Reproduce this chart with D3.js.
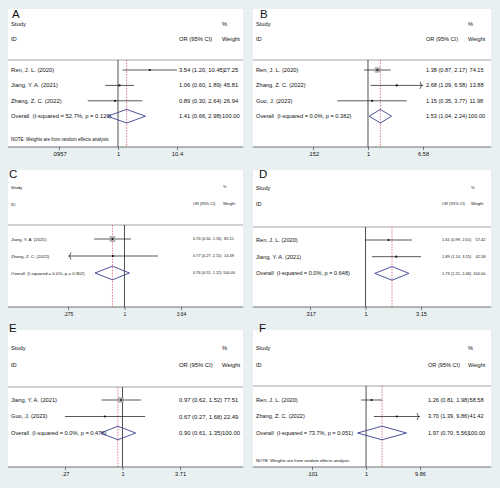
<!DOCTYPE html>
<html><head><meta charset="utf-8">
<script src="https://cdn.jsdelivr.net/npm/d3@7"></script>
<style>
body{margin:0;background:#fff}
svg{display:block}
text{font-family:"Liberation Sans",Arial,sans-serif;fill:#111}
</style>
</head><body>
<svg id="chart" width="500" height="488"></svg>
<script>
// ---------------- DATA ----------------
const panelLetters = ["A", "B", "C", "D", "E", "F"];

const studiesA = ["Ren, J. L. (2020)", "Jiang, Y. A. (2021)", "Zhang, Z. C. (2022)"];
const orA = [3.54, 1.06, 0.89];
const lowA = [1.20, 0.60, 0.30];
const highA = [10.45, 1.89, 2.64];
const weightA = [27.25, 45.81, 26.94];
const overallA = [1.41, 0.66, 2.98];
const hetA = "(I-squared = 52.7%, p = 0.120)";
const ticksA = [0.0957, 1, 10.45];
const tickLabelsA = [".0957", "1", "10.4"];

const studiesB = ["Ren, J. L. (2020)", "Zhang, Z. C. (2022)", "Guo, J. (2023)"];
const orB = [1.38, 2.68, 1.15];
const lowB = [0.87, 1.09, 0.35];
const highB = [2.17, 6.58, 3.77];
const weightB = [74.15, 13.88, 11.98];
const overallB = [1.53, 1.04, 2.24];
const hetB = "(I-squared = 0.0%, p = 0.382)";
const ticksB = [0.152, 1, 6.58];
const tickLabelsB = [".152", "1", "6.58"];

const studiesC = ["Jiang, Y. A. (2021)", "Zhang, Z. C. (2022)"];
const orC = [0.76, 0.77];
const lowC = [0.50, 0.27];
const highC = [1.16, 2.15];
const weightC = [85.51, 14.49];
const overallC = [0.76, 0.51, 1.12];
const hetC = "(I-squared = 0.0%, p = 0.902)";
const ticksC = [0.275, 1, 3.64];
const tickLabelsC = [".275", "1", "3.64"];

const studiesD = ["Ren, J. L. (2020)", "Jiang, Y. A. (2021)"];
const orD = [1.61, 1.89];
const lowD = [0.99, 1.14];
const highD = [2.61, 3.15];
const weightD = [57.42, 42.58];
const overallD = [1.73, 1.21, 2.46];
const hetD = "(I-squared = 0.0%, p = 0.648)";
const ticksD = [0.317, 1, 3.15];
const tickLabelsD = [".317", "1", "3.15"];

const studiesE = ["Jiang, Y. A. (2021)", "Guo, J. (2023)"];
const orE = [0.97, 0.67];
const lowE = [0.62, 0.27];
const highE = [1.52, 1.68];
const weightE = [77.51, 22.49];
const overallE = [0.90, 0.61, 1.35];
const hetE = "(I-squared = 0.0%, p = 0.478)";
const ticksE = [0.27, 1, 3.71];
const tickLabelsE = [".27", "1", "3.71"];

const studiesF = ["Ren, J. L. (2020)", "Zhang, Z. C. (2022)"];
const orF = [1.26, 3.70];
const lowF = [0.81, 1.39];
const highF = [1.98, 9.86];
const weightF = [58.58, 41.42];
const overallF = [1.97, 0.70, 5.56];
const hetF = "(I-squared = 73.7%, p = 0.051)";
const ticksF = [0.101, 1, 9.86];
const tickLabelsF = [".101", "1", "9.86"];

const randomEffects = [true, false, false, false, false, true];
const noteText = "NOTE: Weights are from random effects analysis";

// ---------------- LAYOUT (style) ----------------
const panels = [
  {studies: studiesA, or: orA, lo: lowA, hi: highA, w: weightA, ov: overallA, het: hetA, ticks: ticksA, labels: tickLabelsA,
   ox: 0, oy: 0, white: [8, 9, 243, 147], letter: [12, 18], range: [59, 177],
   yStudy: 24, yID: 39, yLine: 60, row0: 70, rowStep: 15.4, yNote: 139, fs: 5.8, fsR: 5.8, orX: 179, wX: 222, wAlign: "left", arrows: [false, false, false]},
  {studies: studiesB, or: orB, lo: lowB, hi: highB, w: weightB, ov: overallB, het: hetB, ticks: ticksB, labels: tickLabelsB,
   ox: 250, oy: 0, white: [3, 9, 241, 147], letter: [10, 18], range: [63, 173],
   yStudy: 24, yID: 39, yLine: 60, row0: 70, rowStep: 15.4, yNote: 139, fs: 5.7, fsR: 5.6, orX: 176, wX: 218, wAlign: "left", arrows: [false, true, false]},
  {studies: studiesC, or: orC, lo: lowC, hi: highC, w: weightC, ov: overallC, het: hetC, ticks: ticksC, labels: tickLabelsC,
   ox: 0, oy: 160, white: [8, 10, 243, 147], letter: [9, 18], range: [68, 181],
   yStudy: 27, yID: 44, yLine: 65, row0: 79, rowStep: 17, yNote: 139, fs: 4.4, fsR: 3.9, orX: 193, wX: 223, wAlign: "left", arrows: [false, true]},
  {studies: studiesD, or: orD, lo: lowD, hi: highD, w: weightD, ov: overallD, het: hetD, ticks: ticksD, labels: tickLabelsD,
   ox: 250, oy: 160, white: [3, 10, 241, 147], letter: [9, 18], range: [60, 171],
   yStudy: 28, yID: 44, yLine: 67, row0: 80, rowStep: 16.7, yNote: 139, fs: 5.6, fsR: 4.0, orX: 192, wX: 221, wRight: 235.5, wAlign: "right", arrows: [false, false]},
  {studies: studiesE, or: orE, lo: lowE, hi: highE, w: weightE, ov: overallE, het: hetE, ticks: ticksE, labels: tickLabelsE,
   ox: 0, oy: 320, white: [8, 10, 243, 147], letter: [9, 12], range: [65, 180],
   yStudy: 28, yID: 45, yLine: 67, row0: 80, rowStep: 16.5, yNote: 140, fs: 5.7, fsR: 5.9, orX: 179, wX: 222, wAlign: "left", arrows: [false, false]},
  {studies: studiesF, or: orF, lo: lowF, hi: highF, w: weightF, ov: overallF, het: hetF, ticks: ticksF, labels: tickLabelsF,
   ox: 250, oy: 320, white: [3, 10, 241, 147], letter: [9, 12], range: [62, 170],
   yStudy: 28, yID: 45, yLine: 66, row0: 80, rowStep: 16.5, yNote: 140, fs: 5.6, fsR: 5.6, orX: 178, wX: 218, wAlign: "left", arrows: [false, true]}
];

const svg = d3.select("#chart");
svg.append("rect").attr("width", 500).attr("height", 488).attr("fill", "#e9f0f2");

const f2 = d3.format(".2f");

panels.forEach((p, pi) => {
  const g = svg.append("g").attr("transform", `translate(${p.ox},${p.oy})`);
  const [wx0, wy0, wx1, wy1] = p.white;
  g.append("rect").attr("x", wx0).attr("y", wy0).attr("width", wx1 - wx0).attr("height", wy1 - wy0).attr("fill", "#fff");

  const x = d3.scaleLog().domain([p.ticks[0], p.ticks[2]]).range(p.range);
  const n = p.studies.length;
  const y = d3.scaleLinear().domain([0, 1]).range([p.row0, p.row0 + p.rowStep]);

  // panel letter
  g.append("text").attr("x", p.letter[0]).attr("y", p.letter[1]).attr("font-size", 11.5).attr("fill", "#222")
    .text(panelLetters[pi]);

  const tx = wx0 + 3;
  const txt = (xx, yy, s, fs, anchor) => g.append("text").attr("x", xx).attr("y", yy).attr("dy", "0.35em")
    .attr("font-size", fs).attr("text-anchor", anchor || "start").text(s);
  // weight column (Stata %6.2f: values below 100 carry a leading space)
  const wtxt = (yy, v) => p.wAlign === "right"
    ? txt(p.wRight, yy, f2(v), p.fsR, "end")
    : txt(p.wX + (v < 100 ? 0.278 * p.fsR : 0), yy, f2(v), p.fsR);

  txt(tx, p.yStudy, "Study", p.fs);
  txt(tx, p.yID, "ID", p.fs);
  txt(p.orX, p.yID, "OR (95% CI)", p.fsR);
  txt(p.wX, p.yStudy, "%", p.fsR);
  txt(p.wX, p.yID, "Weight", p.fsR);

  // header separator line
  g.append("line").attr("x1", wx0).attr("x2", wx1).attr("y1", p.yLine).attr("y2", p.yLine)
    .attr("stroke", "#666").attr("stroke-width", 0.6);

  // null line and overall dashed line
  g.append("line").attr("x1", x(1)).attr("x2", x(1)).attr("y1", p.yLine).attr("y2", wy1)
    .attr("stroke", "#222").attr("stroke-width", 0.8);
  g.append("line").attr("x1", x(p.ov[0])).attr("x2", x(p.ov[0])).attr("y1", p.yLine).attr("y2", wy1)
    .attr("stroke", "#cc3344").attr("stroke-width", 0.6).attr("stroke-dasharray", "1.6,1.2");

  // studies
  p.studies.forEach((s, i) => {
    const yy = y(i);
    txt(tx, yy, s, p.fs);
    const lo = Math.max(p.lo[i], p.ticks[0]);
    const hi = Math.min(p.hi[i], p.ticks[2]);
    g.append("line").attr("x1", x(lo)).attr("x2", x(hi)).attr("y1", yy).attr("y2", yy)
      .attr("stroke", "#111").attr("stroke-width", 0.7);
    if (p.arrows[i]) {
      const atRight = p.hi[i] >= p.ticks[2] * 0.99;
      const ax = atRight ? x(hi) : x(lo);
      const d = atRight ? -3 : 3;
      g.append("path").attr("d", `M${ax + d},${yy - 3.5} Q${ax},${yy} ${ax + d},${yy + 3.5}`)
        .attr("fill", "none").attr("stroke", "#111").attr("stroke-width", 0.7);
    }
    if (p.w[i] > 70) {
      const side = 5 * Math.sqrt(p.w[i] / 80);
      g.append("rect").attr("x", x(p.or[i]) - side / 2).attr("y", yy - side / 2).attr("width", side).attr("height", side)
        .attr("fill", "#b0b0b0").attr("stroke", "#888").attr("stroke-width", 0.3);
    }
    g.append("circle").attr("cx", x(p.or[i])).attr("cy", yy).attr("r", 1.1).attr("fill", "#111");
    txt(p.orX, yy, `${f2(p.or[i])} (${f2(p.lo[i])}, ${f2(p.hi[i])})`, p.fsR);
    wtxt(yy, p.w[i]);
  });

  // overall
  const yo = y(n);
  txt(tx, yo, "Overall  " + p.het, p.fs).style("white-space", "pre");
  const dh = 6.8;
  g.append("path")
    .attr("d", `M${x(p.ov[1])},${yo} L${x(p.ov[0])},${yo - dh} L${x(p.ov[2])},${yo} L${x(p.ov[0])},${yo + dh} Z`)
    .attr("fill", "none").attr("stroke", "#3a3f8f").attr("stroke-width", 0.9);
  txt(p.orX, yo, `${f2(p.ov[0])} (${f2(p.ov[1])}, ${f2(p.ov[2])})`, p.fsR);
  wtxt(yo, 100);

  if (randomEffects[pi]) {
    txt(tx, p.yNote, noteText, pi === 0 ? 4.5 : 4.3);
  }

  // x axis
  g.append("line").attr("x1", wx0).attr("x2", wx1).attr("y1", wy1).attr("y2", wy1)
    .attr("stroke", "#333").attr("stroke-width", 0.7);
  const axis = d3.axisBottom(x).tickValues(p.ticks).tickFormat((d, i) => p.labels[i]).tickSize(3).tickPadding(2);
  const ag = g.append("g").attr("transform", `translate(0,${wy1})`).call(axis);
  ag.select(".domain").remove();
  ag.selectAll(".tick line").attr("stroke", "#333").attr("stroke-width", 0.6);
  ag.selectAll(".tick text").attr("font-size", Math.max(p.fs, 5)).attr("font-family", "Liberation Sans, Arial, sans-serif").attr("fill", "#111");
});
</script>
</body></html>
